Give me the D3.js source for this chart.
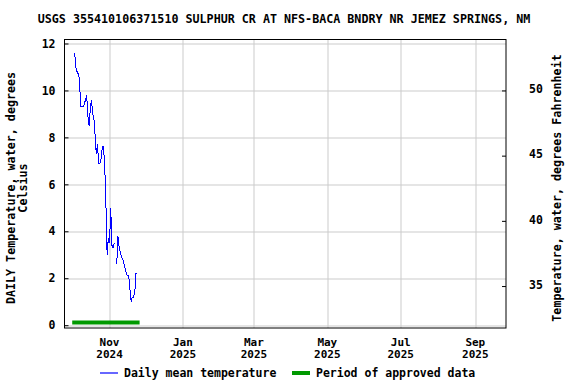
<!DOCTYPE html>
<html>
<head>
<meta charset="utf-8">
<script src="https://cdn.jsdelivr.net/npm/d3@7"></script>
<style>
  body { margin: 0; background: #fff; }
  text { font-family: "DejaVu Sans Mono", monospace; font-weight: bold; fill: #000; }
</style>
</head>
<body>
<div id="chart"></div>
<script>
// Daily mean water temperature (deg C), one value per day from 2024-10-03
const startDay = "2024-10-03";
const dailyTemp = [
    11.6, 11.0, 10.8, 10.7, 10.5, 9.3, 9.3, 9.3, 9.4, 9.6,
    9.8, 8.9, 8.5, 9.2, 9.6, 9.0, 8.8, 8.1, 7.3, 7.7,
    6.9, 6.9, 7.1, 7.6, 7.6, 6.8, 5.2, 3.0, 3.7, 3.5,
    5.0, 3.4, 3.3, 3.5, null, 2.6, 3.8, 3.3, 3.1, 2.9,
    2.8, 2.6, 2.4, 2.2, 2.1, 2.1, 1.5, 1.0, 1.2, 1.2,
    1.4, 2.2, 2.2
];
const approvedPeriod = ["2024-10-01", "2024-11-26"];
const celsiusTicks = [0, 2, 4, 6, 8, 10, 12];
const fahrenheitTicks = [35, 40, 45, 50];
const monthTicks = ["2024-11-01", "2025-01-01", "2025-03-01", "2025-05-01", "2025-07-01", "2025-09-01"];
const xDomain = ["2024-09-24T14:00", "2025-09-26T12:00"];
const yDomain = [-0.12, 12.17];

const title = "USGS 355410106371510 SULPHUR CR AT NFS-BACA BNDRY NR JEMEZ SPRINGS, NM";

const W = 576, H = 384;
const margin = { top: 39.5, right: 70, bottom: 56, left: 64.5 };
const width = W - margin.left - margin.right;
const height = H - margin.top - margin.bottom;

const parse = d3.isoParse;
const t0 = parse(startDay);
const series = dailyTemp.map((v, i) => ({ date: d3.timeDay.offset(t0, i), value: v }));

const svg = d3.select("#chart").append("svg")
    .attr("width", W)
    .attr("height", H);

const g = svg.append("g")
    .attr("transform", `translate(${margin.left},${margin.top})`);

const x = d3.scaleTime()
    .domain(xDomain.map(parse))
    .range([0, width]);

const y = d3.scaleLinear()
    .domain(yDomain)
    .range([height, 0]);

const yF = d3.scaleLinear()
    .domain(yDomain.map(c => c * 9 / 5 + 32))
    .range([height, 0]);

// gridlines
g.append("g").selectAll("line.hg")
    .data(celsiusTicks)
    .enter().append("line")
    .attr("x1", 0).attr("x2", width)
    .attr("y1", d => Math.round(y(d)) + 0.5)
    .attr("y2", d => Math.round(y(d)) + 0.5)
    .attr("stroke", "#cbcbcb");

g.append("g").selectAll("line.vg")
    .data(monthTicks.map(parse))
    .enter().append("line")
    .attr("y1", 0).attr("y2", height)
    .attr("x1", d => Math.round(x(d)) + 0.5)
    .attr("x2", d => Math.round(x(d)) + 0.5)
    .attr("stroke", "#cbcbcb");

// approved data bar
g.append("line")
    .attr("x1", x(parse(approvedPeriod[0])))
    .attr("x2", x(parse(approvedPeriod[1])))
    .attr("y1", height - 5.5)
    .attr("y2", height - 5.5)
    .attr("stroke", "#009900")
    .attr("stroke-width", 4);

// temperature line
const line = d3.line()
    .defined(d => d.value !== null)
    .x(d => x(d.date))
    .y(d => y(d.value));

g.append("path")
    .datum(series)
    .attr("fill", "none")
    .attr("stroke", "#0000ff")
    .attr("stroke-width", 1)
    .attr("shape-rendering", "crispEdges")
    .attr("d", line);

// frame
g.append("rect")
    .attr("width", width)
    .attr("height", height)
    .attr("fill", "none")
    .attr("stroke", "#000");

// left axis (celsius)
const axL = g.append("g")
    .call(d3.axisLeft(y).tickValues(celsiusTicks).tickSize(-4).tickPadding(9));
axL.select(".domain").remove();
axL.selectAll("text").style("font-size", "11.5px").style("font-family", null);

// right axis (fahrenheit)
const axR = g.append("g")
    .attr("transform", `translate(${width},0)`)
    .call(d3.axisRight(yF).tickValues(fahrenheitTicks).tickSize(-4).tickPadding(23));
axR.select(".domain").remove();
axR.selectAll("text").style("font-size", "11.5px").style("font-family", null).attr("dy", "0.2em");

// bottom axis, two-line month labels
const months = monthTicks.map(parse);
g.append("g").selectAll("text.xm")
    .data(months)
    .enter().append("text")
    .attr("x", d => x(d))
    .attr("y", height + 17.5)
    .attr("text-anchor", "middle")
    .style("font-size", "11px")
    .text(d => d3.timeFormat("%b")(d));
g.append("g").selectAll("text.xy")
    .data(months)
    .enter().append("text")
    .attr("x", d => x(d))
    .attr("y", height + 30)
    .attr("text-anchor", "middle")
    .style("font-size", "11px")
    .text(d => d3.timeFormat("%Y")(d));

// title
svg.append("text")
    .attr("x", 284)
    .attr("y", 23)
    .attr("text-anchor", "middle")
    .style("font-size", "11.7px")
    .text(title);

// axis titles
const yTitle = svg.append("text")
    .attr("transform", `translate(15,188) rotate(-90)`)
    .attr("text-anchor", "middle")
    .style("font-size", "11.7px");
yTitle.append("tspan").attr("x", 0).text("DAILY Temperature, water, degrees");
yTitle.append("tspan").attr("x", 0).attr("dy", 12).text("Celsius");

svg.append("text")
    .attr("transform", `translate(561,188) rotate(-90)`)
    .attr("text-anchor", "middle")
    .style("font-size", "11.7px")
    .text("Temperature, water, degrees Fahrenheit");

// legend
const leg = svg.append("g").attr("transform", "translate(0,373)");
leg.append("line")
    .attr("x1", 100).attr("x2", 118)
    .attr("stroke", "#0000ff").attr("stroke-width", 1.2);
leg.append("text").attr("x", 124).attr("y", 4).style("font-size", "11.5px")
    .text("Daily mean temperature");
leg.append("line")
    .attr("x1", 292).attr("x2", 310)
    .attr("stroke", "#009900").attr("stroke-width", 4);
leg.append("text").attr("x", 316).attr("y", 4).style("font-size", "11.5px")
    .text("Period of approved data");
</script>
</body>
</html>
